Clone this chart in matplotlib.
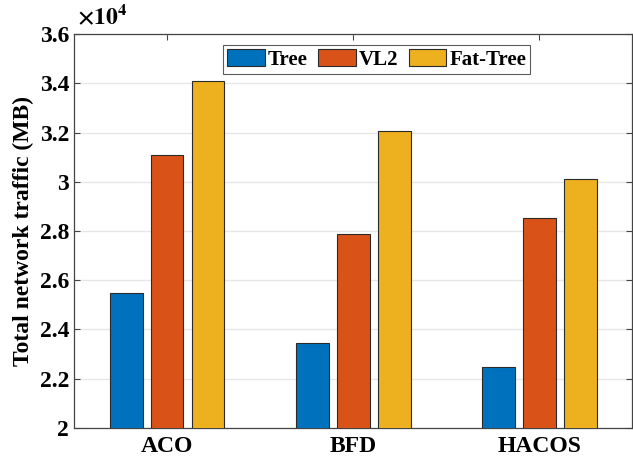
import numpy as np
import matplotlib.pyplot as plt
from matplotlib.ticker import FuncFormatter

algorithms = ['ACO', 'BFD', 'HACOS']
series = ['Tree', 'VL2', 'Fat-Tree']
tree = [25500, 23450, 22480]
vl2 = [31100, 27870, 28530]
fat_tree = [34100, 32060, 30100]

colors = ['#0072BD', '#D95319', '#EDB120']

plt.rcParams['font.family'] = 'Liberation Serif'
plt.rcParams['font.weight'] = 'bold'
plt.rcParams['mathtext.fontset'] = 'stix'

fig = plt.figure(figsize=(6.33, 4.62), dpi=100)
ax = fig.add_axes([0.117, 0.074, 0.882, 0.852])

x = np.arange(1, len(algorithms) + 1)
width = 0.22
for i, (vals, name) in enumerate(zip([tree, vl2, fat_tree], series)):
    ax.bar(x + (i - 1) * width, vals, width=width * 0.8, color=colors[i],
           edgecolor='#2a2a2a', linewidth=0.8, label=name, zorder=3)

ax.set_xlim(0.5, 3.5)
ax.set_ylim(20000, 36000)
ax.set_yticks(np.arange(20000, 36001, 2000))
ax.yaxis.set_major_formatter(FuncFormatter(lambda v, p: ('%g' % (v / 1e4))))
ax.set_xticks(x)
ax.set_xticklabels(algorithms)
ax.tick_params(axis='both', labelsize=17, direction='in', length=4, color='#444444')
ax.tick_params(axis='x', top=True, pad=6)
ax.tick_params(axis='y', right=True)
ax.grid(axis='y', color='#e6e6e6', linewidth=1, zorder=0)
for s in ax.spines.values():
    s.set_color('#444444')
    s.set_linewidth(0.9)

ax.set_ylabel('Total network traffic (MB)', fontsize=17, fontweight='bold', labelpad=4)
ax.text(0.005, 1.012, r'$\times 10^4$', transform=ax.transAxes, fontsize=17,
        ha='left', va='bottom')

leg = ax.legend(loc='upper center', bbox_to_anchor=(0.542, 0.972), ncol=3,
                fontsize=15, frameon=True, fancybox=False, edgecolor='#333333',
                handlelength=1.8, handleheight=0.86, handletextpad=0.15,
                columnspacing=0.5, borderpad=0.2, borderaxespad=0)
leg.get_frame().set_linewidth(0.8)

fig.savefig('out.png', dpi=100)
